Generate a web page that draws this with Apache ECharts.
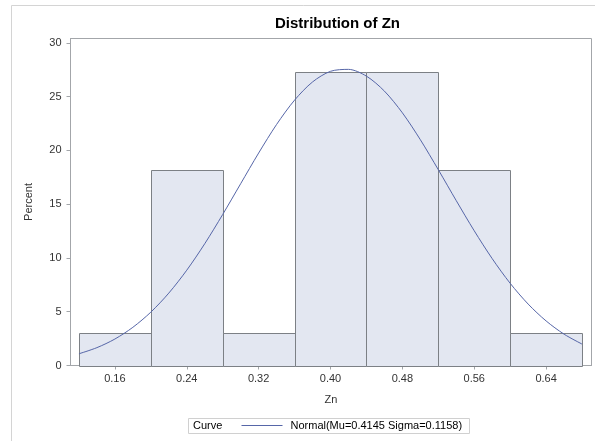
<!DOCTYPE html>
<html>
<head>
<meta charset="utf-8">
<script src="https://cdn.jsdelivr.net/npm/echarts@6/dist/echarts.min.js"></script>
<style>html,body{margin:0;padding:0;background:#fff}#c{width:595px;height:441px}</style>
</head>
<body>
<div id="c"></div>
<script>
// Histogram bins (left edges), bin width and percent values
var binLeft = [0.12, 0.20, 0.28, 0.36, 0.44, 0.52, 0.60];
var binWidth = 0.08;
var binPercent = [3.03, 18.18, 3.03, 27.27, 27.27, 18.18, 3.03];
// Normal curve points
var curveX = [0.12,0.14,0.16,0.18,0.20,0.22,0.24,0.26,0.28,0.30,0.32,0.34,0.36,0.38,0.40,0.42,0.44,0.46,0.48,0.50,0.52,0.54,0.56,0.58,0.60,0.62,0.64,0.66,0.68];
var curveY = [1.09,1.66,2.46,3.55,4.96,6.73,8.86,11.32,14.04,16.90,19.75,22.41,24.67,26.36,27.35,27.53,26.90,25.51,23.49,20.99,18.20,15.32,12.52,9.93,7.64,5.71,4.14,2.91,1.99];
var xTicks = [0.16, 0.24, 0.32, 0.40, 0.48, 0.56, 0.64];
var yTicks = [0, 5, 10, 15, 20, 25, 30];
var curveName = 'Normal(Mu=0.4145 Sigma=0.1158)';

var barData = binLeft.map(function (l, i) { return [l, l + binWidth, binPercent[i]]; });
var lineData = curveX.map(function (x, i) { return [x, curveY[i]]; });

var chart = echarts.init(document.getElementById('c'), null, {renderer: 'canvas'});
var font = 'Liberation Sans, Arial, sans-serif';
chart.setOption({
  animation: false,
  backgroundColor: '#fff',
  textStyle: {fontFamily: font},
  title: {
    text: 'Distribution of Zn', left: 275, top: 16, padding: 0,
    textStyle: {fontSize: 15, fontWeight: 'bold', color: '#000', fontFamily: font}
  },
  grid: {left: 70.5, top: 38.5, right: 3.5, bottom: 75.5, show: true, borderColor: '#a3a6aa', borderWidth: 1, backgroundColor: '#fff'},
  legend: {
    left: 241.5, top: 420, itemWidth: 41, itemHeight: 1, padding: 0, icon: 'rect',
    itemStyle: {color: '#5666a8'},
    textStyle: {fontSize: 11, color: '#000', fontFamily: font, padding: [0, 0, 0, 3]},
    data: [curveName]
  },
  graphic: [
    {type: 'rect', shape: {x: 11.5, y: 5.5, width: 640, height: 500}, style: {fill: 'none', stroke: '#d4d4d4', lineWidth: 1}, silent: true, z: -10},
    {type: 'rect', shape: {x: 188.5, y: 418.5, width: 281, height: 15}, style: {fill: '#fff', stroke: '#d0d0d0', lineWidth: 1}, silent: true, z: -1},
    {type: 'text', x: 193, y: 426, style: {text: 'Curve', fontSize: 11, fill: '#000', fontFamily: font, verticalAlign: 'middle'}}
  ],
  xAxis: {
    type: 'value', min: 0.1106, max: 0.6905,
    name: 'Zn', nameLocation: 'middle', nameGap: 29,
    nameTextStyle: {fontSize: 11, color: '#333'},
    axisLine: {show: true, lineStyle: {color: '#a3a6aa'}},
    axisTick: {show: true, length: 4, customValues: xTicks, lineStyle: {color: '#a3a6aa'}},
    axisLabel: {fontSize: 11, color: '#333', margin: 8, customValues: xTicks, formatter: function (v) { return v.toFixed(2); }},
    splitLine: {show: false}
  },
  yAxis: {
    type: 'value', min: 0, max: 30.4,
    name: 'Percent', nameLocation: 'middle', nameGap: 36, nameRotate: 90,
    nameTextStyle: {fontSize: 11, color: '#333'},
    axisLine: {show: true, lineStyle: {color: '#a3a6aa'}},
    axisTick: {show: true, length: 4, customValues: yTicks, lineStyle: {color: '#a3a6aa'}},
    axisLabel: {fontSize: 11, color: '#333', margin: 9, customValues: yTicks},
    splitLine: {show: false}
  },
  series: [
    {
      type: 'custom', name: 'Histogram',
      encode: {x: [0, 1], y: 2},
      data: barData,
      renderItem: function (params, api) {
        var p0 = api.coord([api.value(0), api.value(2)]);
        var p1 = api.coord([api.value(1), 0]);
        return {
          type: 'rect',
          shape: {x: Math.round(p0[0]) + 0.5, y: Math.round(p0[1]) + 0.5, width: Math.round(p1[0]) - Math.round(p0[0]), height: Math.round(p1[1]) - Math.round(p0[1])},
          style: {fill: '#e3e7f1', stroke: '#7c8085', lineWidth: 1}
        };
      },
      z: 2
    },
    {
      type: 'line', name: curveName, data: lineData, smooth: 0.3, symbol: 'none',
      lineStyle: {color: '#5666a8', width: 1},
      itemStyle: {color: '#5666a8'},
      z: 3
    }
  ]
});
</script>
</body>
</html>
